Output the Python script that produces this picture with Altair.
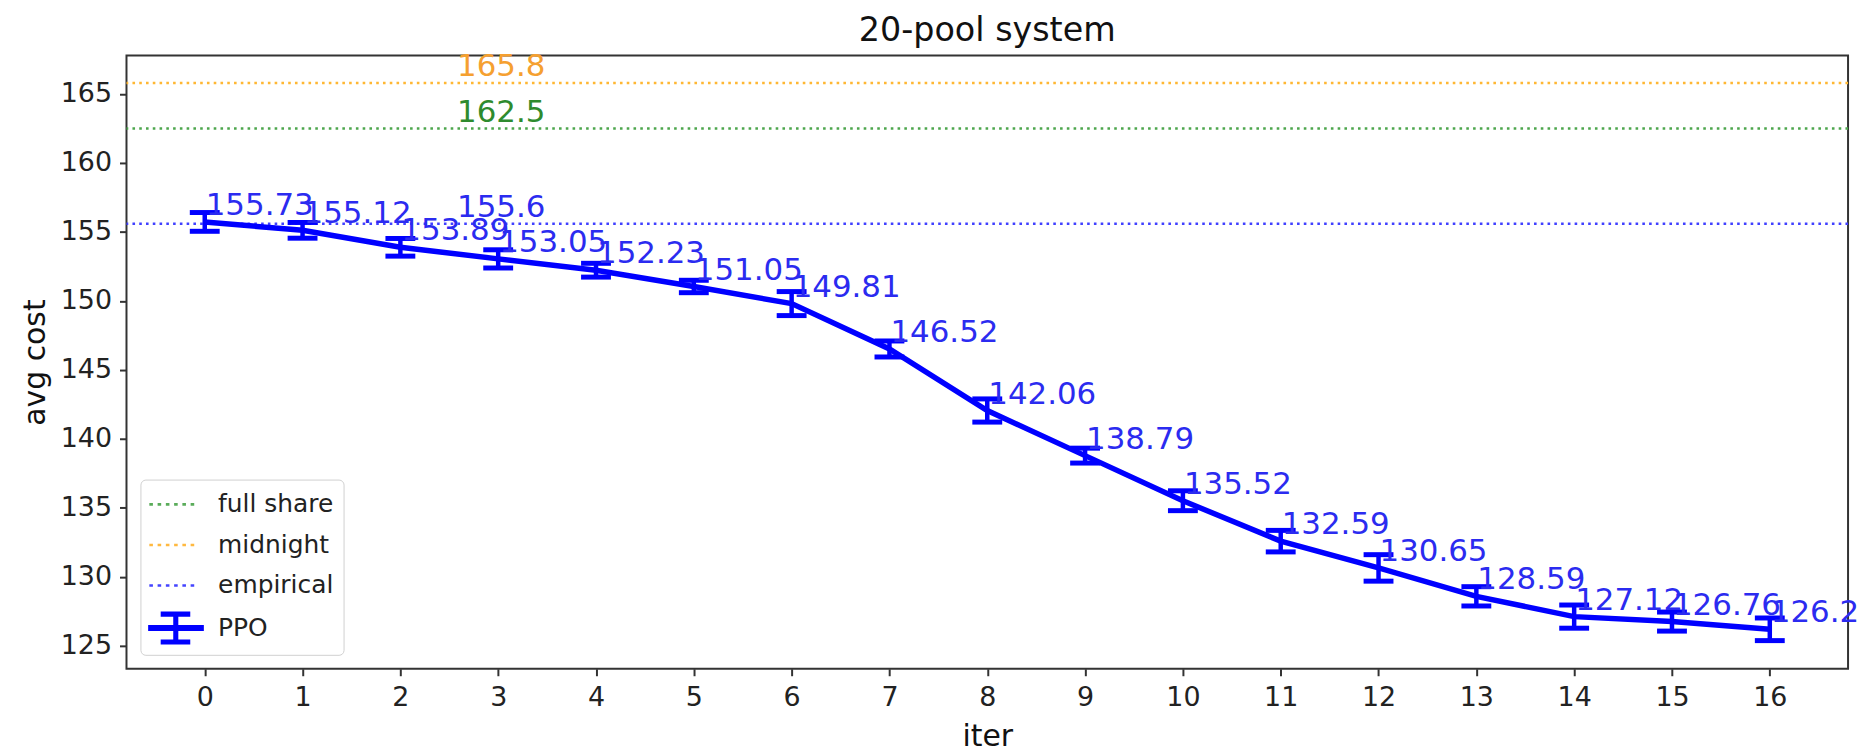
import altair as alt
import pandas as pd

# ---- data ----
iters = list(range(17))
means = [155.73, 155.12, 153.89, 153.05, 152.23, 151.05, 149.81, 146.52, 142.06,
         138.79, 135.52, 132.59, 130.65, 128.59, 127.12, 126.76, 126.2]
stds = [0.68, 0.57, 0.64, 0.66, 0.50, 0.45, 0.87, 0.58, 0.84,
        0.54, 0.72, 0.78, 0.96, 0.70, 0.84, 0.69, 0.82]
value_labels = [str(m) for m in means]

base_names = ["full share", "midnight", "empirical"]
base_values = [162.5, 165.8, 155.6]
base_label_x = [3, 3, 3]
base_line_colors = ["#4da64d", "#ffb733", "#4040ff"]
base_text_colors = ["#2e8b2e", "#f5a030", "#2b2bf0"]

legend_names = ["full share", "midnight", "empirical", "PPO"]
legend_colors = ["#5aac5a", "#ffb940", "#4444ff", "#0000ff"]

ppo_color = "#0000ff"
ppo_text_color = "#2b2bf0"
FONT = "DejaVu Sans"

df = pd.DataFrame({"iter": iters, "mean": means, "std": stds, "label": value_labels})
df["lo"] = df["mean"] - df["std"]
df["hi"] = df["mean"] + df["std"]

bdf = pd.DataFrame({"name": base_names, "value": base_values, "lx": base_label_x,
                    "lcolor": base_line_colors, "tcolor": base_text_colors})

xscale = alt.Scale(domain=[-0.8, 16.8], nice=False, zero=False)
yscale = alt.Scale(domain=[123.34, 167.8], nice=False, zero=False)

xaxis = alt.Axis(values=iters, format="d", title="iter", titleY=77,
                 titleBaseline="alphabetic", labelPadding=9)
yaxis = alt.Axis(values=[125, 130, 135, 140, 145, 150, 155, 160, 165], format="d",
                 title="avg cost", titleX=-82, titleY=308, titleAngle=270,
                 titleBaseline="alphabetic", titleAlign="center", labelPadding=8)

X = alt.X("iter:Q", scale=xscale, axis=xaxis)

hlines = alt.Chart(bdf).mark_rule(strokeWidth=2.6, strokeDash=[2.6, 4.2]).encode(
    y=alt.Y("value:Q", scale=yscale, axis=yaxis),
    stroke=alt.Stroke("lcolor:N", scale=None, legend=None),
)

hlabels = alt.Chart(bdf).mark_text(align="center", baseline="alphabetic", dx=3, dy=-7,
                                   fontSize=31, font=FONT).encode(
    x=alt.X("lx:Q", scale=xscale, axis=xaxis),
    y=alt.Y("value:Q", scale=yscale, axis=yaxis),
    text="value:Q",
    fill=alt.Fill("tcolor:N", scale=None, legend=None),
)

ebars = alt.Chart(df).mark_rule(strokeWidth=4.5, color=ppo_color).encode(
    x=X, y=alt.Y("lo:Q", scale=yscale, axis=yaxis), y2="hi:Q")

cap_lo = alt.Chart(df).mark_tick(orient="horizontal", size=30, thickness=5,
                                 color=ppo_color, opacity=1).encode(
    x=X, y=alt.Y("lo:Q", scale=yscale, axis=yaxis))
cap_hi = alt.Chart(df).mark_tick(orient="horizontal", size=30, thickness=5,
                                 color=ppo_color, opacity=1).encode(
    x=X, y=alt.Y("hi:Q", scale=yscale, axis=yaxis))

line = alt.Chart(df).mark_line(strokeWidth=5.5, color=ppo_color).encode(
    x=X, y=alt.Y("mean:Q", scale=yscale, axis=yaxis))

vlabels = alt.Chart(df).mark_text(align="left", baseline="alphabetic", dx=1, dy=-7,
                                  fontSize=31, font=FONT, color=ppo_text_color).encode(
    x=X, y=alt.Y("mean:Q", scale=yscale, axis=yaxis), text="label:N")

# ---- legend built from a clipped dummy layer with custom symbols ----
def rect(x0, y0, x1, y1):
    return f"M{x0},{y0}H{x1}V{y1}H{x0}Z"

dots = "".join(rect(round(-0.95 + 0.553 * k - 0.12, 3), -0.09,
                    round(-0.95 + 0.553 * k + 0.12, 3), 0.09) for k in range(6))
ppo_sym = (rect(-1.15, -0.2, 2.58, 0.2) + rect(0.53, -0.93, 0.87, 0.93)
           + rect(-0.31, -1.1, 1.67, -0.76) + rect(-0.31, 0.76, 1.67, 1.1))
legend_shapes = [dots, dots, dots, ppo_sym]

ldf = pd.DataFrame({"series": legend_names, "iter": [-5] * 4, "mean": [140] * 4})
leg = alt.Legend(title=None, orient="bottom-left", offset=14, padding=10,
                 rowPadding=12.7, symbolSize=900, labelFontSize=25, labelFont=FONT,
                 labelOffset=38, labelColor="#222222", fillColor="rgba(255,255,255,0.8)",
                 strokeColor="#d0d0d0", cornerRadius=5, symbolStrokeWidth=0,
                 symbolOpacity=1, labelLimit=400)
legend_layer = alt.Chart(ldf).mark_point(filled=True, clip=True, size=900, opacity=1,
                                         strokeWidth=0).encode(
    x=X, y=alt.Y("mean:Q", scale=yscale, axis=yaxis),
    color=alt.Color("series:N", scale=alt.Scale(domain=legend_names, range=legend_colors),
                    legend=leg),
    shape=alt.Shape("series:N", scale=alt.Scale(domain=legend_names, range=legend_shapes),
                    legend=leg),
)

chart = alt.layer(hlines, hlabels, ebars, cap_lo, cap_hi, line, vlabels, legend_layer).properties(
    width=1729, height=616,
    padding={"left": 119, "top": 46, "right": 11, "bottom": 84},
    autosize=alt.AutoSizeParams(type="none"),
    title=alt.TitleParams("20-pool system", fontSize=33.5, font=FONT, fontWeight="normal",
                          color="#111111", anchor="middle", baseline="alphabetic",
                          offset=15, dy=38),
).configure(background="white").configure_view(
    stroke="#333333", strokeWidth=2
).configure_axis(
    labelFont=FONT, labelFontSize=27, labelColor="#222222", tickSize=7, tickWidth=2,
    tickColor="#333333", domain=False, grid=False, titleFont=FONT, titleFontSize=30,
    titleFontWeight="normal", titleColor="#111111",
)

chart.save("out.html", embed_options={"renderer": "svg", "actions": False})
